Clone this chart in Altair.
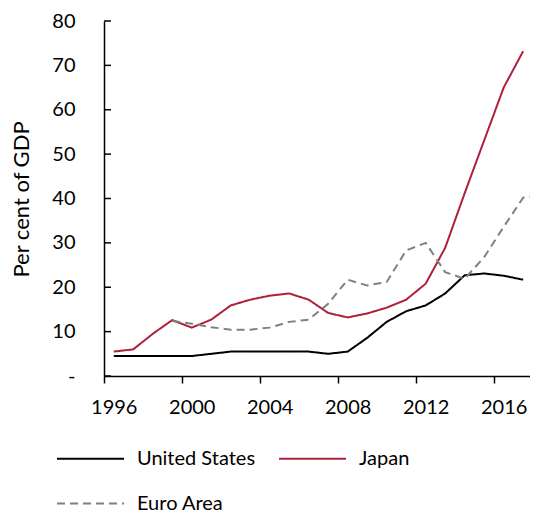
import altair as alt
import pandas as pd

years = list(range(1996, 2018))
us = [4.5, 4.5, 4.5, 4.5, 4.5, 5.0, 5.5, 5.5, 5.5, 5.5, 5.5, 5.0, 5.5, 8.6, 12.2,
      14.6, 15.9, 18.6, 22.7, 23.1, 22.6, 21.7]
japan = [5.5, 6.0, 9.5, 12.6, 10.9, 12.7, 15.9, 17.2, 18.1, 18.6, 17.2, 14.2, 13.2,
         14.1, 15.4, 17.2, 20.8, 28.9, 41.2, 53.1, 65.0, 73.2]
euro_years = list(range(1999, 2019))
euro = [12.4, 11.8, 11.0, 10.45, 10.45, 10.9, 12.2, 12.7, 16.3, 21.7, 20.4, 21.2,
        28.3, 30.0, 23.4, 21.9, 26.8, 33.6, 40.2, 40.8]

series = ["United States", "Japan", "Euro Area"]
colors = ["#000000", "#B0203C", "#808080"]
dashes = [[1, 0], [1, 0], [8, 5]]
y_ticks = [0, 10, 20, 30, 40, 50, 60, 70, 80]
x_tick_bounds = [1995.5, 1999.5, 2003.5, 2007.5, 2011.5, 2015.5]

rows = []
for y, v in zip(years, us):
    rows.append({"year": y, "value": v, "series": "United States"})
for y, v in zip(years, japan):
    rows.append({"year": y, "value": v, "series": "Japan"})
for y, v in zip(euro_years, euro):
    rows.append({"year": y, "value": v, "series": "Euro Area"})
df = pd.DataFrame(rows)

FONT = "Lato"

x_scale = alt.Scale(domain=[1995.5, 2017.35], nice=False, zero=False)
y_scale = alt.Scale(domain=[0, 80], nice=False)

lines = alt.Chart(df).mark_line(strokeWidth=2, clip=True).encode(
    x=alt.X("year:Q", scale=x_scale,
            axis=alt.Axis(values=x_tick_bounds,
                          labelExpr="format(datum.value + 0.5, 'd')",
                          labelOffset=9.75, title=None, grid=False,
                          tickSize=7, tickColor="black", tickWidth=1.5,
                          domainColor="black", domainWidth=1.5,
                          labelPadding=14, labelFontSize=20, labelFont=FONT,
                          labelColor="black", labelFlush=False,
                          labelOverlap=False)),
    y=alt.Y("value:Q", scale=y_scale,
            axis=alt.Axis(values=y_ticks,
                          labelExpr="datum.value == 0 ? '-' : datum.label",
                          title="Per cent of GDP", titleFont=FONT,
                          titleFontSize=22, titleFontWeight="normal",
                          titleColor="black", titleX=-76, titleY=178,
                          titleBaseline="alphabetic", titleAlign="center",
                          grid=False, ticks=False, domainColor="black",
                          domainWidth=1.5, labelPadding=29, labelFontSize=20,
                          labelFont=FONT, labelColor="black")),
    color=alt.Color("series:N",
                    scale=alt.Scale(domain=series, range=colors),
                    legend=alt.Legend(title=None, orient="none",
                                      legendX=-48, legendY=403,
                                      direction="horizontal", columns=2,
                                      columnPadding=19, rowPadding=-32,
                                      symbolType="stroke", symbolSize=4489,
                                      symbolStrokeWidth=2, labelOffset=12,
                                      labelFont=FONT, labelFontSize=20,
                                      labelColor="black", padding=0)),
    strokeDash=alt.StrokeDash("series:N",
                              scale=alt.Scale(domain=series, range=dashes),
                              legend=None),
    detail="series:N",
)

tick_df = pd.DataFrame({"tick": y_ticks})
yticks = alt.Chart(tick_df).mark_rule(color="black", strokeWidth=1.5).encode(
    y=alt.Y("tick:Q", scale=y_scale),
    x=alt.value(0),
    x2=alt.value(7),
)

chart = alt.layer(lines, yticks).properties(
    width=426,
    height=355,
    autosize=alt.AutoSizeParams(type="none"),
    padding={"left": 96, "top": 13, "right": 0, "bottom": 136},
).configure_view(stroke=None)

chart.save("out.html", embed_options={"renderer": "svg", "actions": False})
